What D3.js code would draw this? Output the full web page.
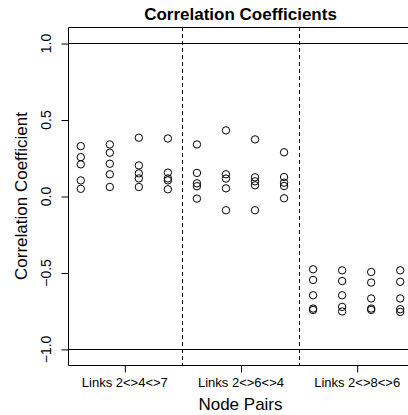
<!DOCTYPE html>
<html>
<head>
<meta charset="utf-8">
<script src="https://cdn.jsdelivr.net/npm/d3@7"></script>
<style>
  body { margin: 0; background: #fff; }
  svg { display: block; font-family: "Liberation Sans", Arial, sans-serif; }
</style>
</head>
<body>
<svg id="chart" width="408" height="415"></svg>
<script>
// group labels on the x axis, one per block of four node pairs
var groupLabels = ["Links 2<>4<>7", "Links 2<>6<>4", "Links 2<>8<>6"];

// correlation coefficients, five per node pair
var links247 = [
  [0.326, 0.254, 0.207, 0.102, 0.047],
  [0.337, 0.283, 0.211, 0.142, 0.059],
  [0.381, 0.200, 0.148, 0.115, 0.059],
  [0.376, 0.153, 0.115, 0.102, 0.044]
];
var links264 = [
  [0.337, 0.151, 0.083, 0.064, -0.017],
  [0.429, 0.142, 0.114, 0.050, -0.093],
  [0.370, 0.122, 0.096, 0.070, -0.093],
  [0.286, 0.124, 0.087, 0.065, -0.015]
];
var links286 = [
  [-0.479, -0.549, -0.649, -0.736, -0.745],
  [-0.486, -0.556, -0.649, -0.725, -0.755],
  [-0.497, -0.566, -0.670, -0.736, -0.745],
  [-0.486, -0.561, -0.670, -0.740, -0.758]
];

var yTicks = [-1.0, -0.5, 0.0, 0.5, 1.0];
var refLines = [-1, 1];
var dividers = [4.5, 8.5];

var svg = d3.select("#chart"),
    margin = {top: 27, right: -5, bottom: 50, left: 68},
    width = +svg.attr("width") - margin.left - margin.right,
    height = +svg.attr("height") - margin.top - margin.bottom,
    g = svg.append("g").attr("transform", "translate(" + margin.left + "," + margin.top + ")");

var columns = links247.concat(links264, links286);
var points = [];
columns.forEach(function(col, i) {
  col.forEach(function(v) { points.push({idx: i + 1, value: v}); });
});

var x = d3.scaleLinear()
    .domain([0.56, 12.44])
    .range([0, width]);

var y = d3.scaleLinear()
    .domain([-1.105, 1.105])
    .range([height, 0]);

// reference lines at +/-1
g.selectAll(".ref")
  .data(refLines)
  .enter().append("line")
    .attr("class", "ref")
    .attr("x1", 0)
    .attr("x2", width)
    .attr("y1", function(d) { return Math.round(y(d)) + 0.5; })
    .attr("y2", function(d) { return Math.round(y(d)) + 0.5; })
    .attr("stroke", "#000");

// dashed group separators
g.selectAll(".divider")
  .data(dividers)
  .enter().append("line")
    .attr("class", "divider")
    .attr("x1", function(d) { return Math.round(x(d)) + 0.5; })
    .attr("x2", function(d) { return Math.round(x(d)) + 0.5; })
    .attr("y1", 0)
    .attr("y2", height)
    .attr("stroke", "#000")
    .attr("stroke-dasharray", "4,3");

g.selectAll("circle")
  .data(points)
  .enter().append("circle")
    .attr("cx", function(d) { return x(d.idx); })
    .attr("cy", function(d) { return y(d.value); })
    .attr("r", 3.7)
    .attr("fill", "none")
    .attr("stroke", "#000")
    .attr("stroke-width", 1);

// box
g.append("path")
    .attr("d", "M" + (width) + ",0.5H0.5V" + (height + 0.5) + "H" + width)
    .attr("fill", "none")
    .attr("stroke", "#000");

// y axis
var yAxis = g.append("g")
    .attr("transform", "translate(0.5,0)")
    .call(d3.axisLeft(y).tickValues(yTicks).tickSize(7).tickFormat(function(d) {
      return d3.format(".1f")(d).replace("-", "\u2212");
    }));
yAxis.select(".domain").remove();
yAxis.selectAll("line").attr("stroke", "#000").attr("transform", "translate(0,0.5)");
yAxis.selectAll("text")
    .attr("x", 0)
    .attr("y", 0)
    .attr("dy", 0)
    .attr("transform", "translate(-18,0) rotate(-90)")
    .attr("text-anchor", "middle")
    .attr("font-size", 14)
    .attr("font-family", "Liberation Sans, Arial, sans-serif")
    .attr("fill", "#000");

// x axis with one label per group
var groupCenters = [2.5, 6.5, 10.5];
var xAxis = g.append("g")
    .attr("transform", "translate(0," + (height + 0.5) + ")")
    .call(d3.axisBottom(x).tickValues(groupCenters).tickSize(7).tickFormat(function(d, i) { return groupLabels[i]; }));
xAxis.select(".domain").remove();
xAxis.selectAll("line").attr("stroke", "#000").attr("transform", "translate(0.5,0)");
xAxis.selectAll("text")
    .attr("y", 21)
    .attr("dy", 0)
    .attr("font-size", 13)
    .attr("font-family", "Liberation Sans, Arial, sans-serif")
    .attr("fill", "#000");

// title and axis labels
svg.append("text")
    .attr("x", margin.left + x(6.5))
    .attr("y", 20)
    .attr("text-anchor", "middle")
    .attr("font-size", 17)
    .attr("font-weight", "bold")
    .text("Correlation Coefficients");

svg.append("text")
    .attr("x", margin.left + x(6.5))
    .attr("y", 410)
    .attr("text-anchor", "middle")
    .attr("font-size", 17)
    .text("Node Pairs");

svg.append("text")
    .attr("transform", "translate(27," + (margin.top + y(0)) + ") rotate(-90)")
    .attr("text-anchor", "middle")
    .attr("font-size", 17)
    .text("Correlation Coefficient");
</script>
</body>
</html>
